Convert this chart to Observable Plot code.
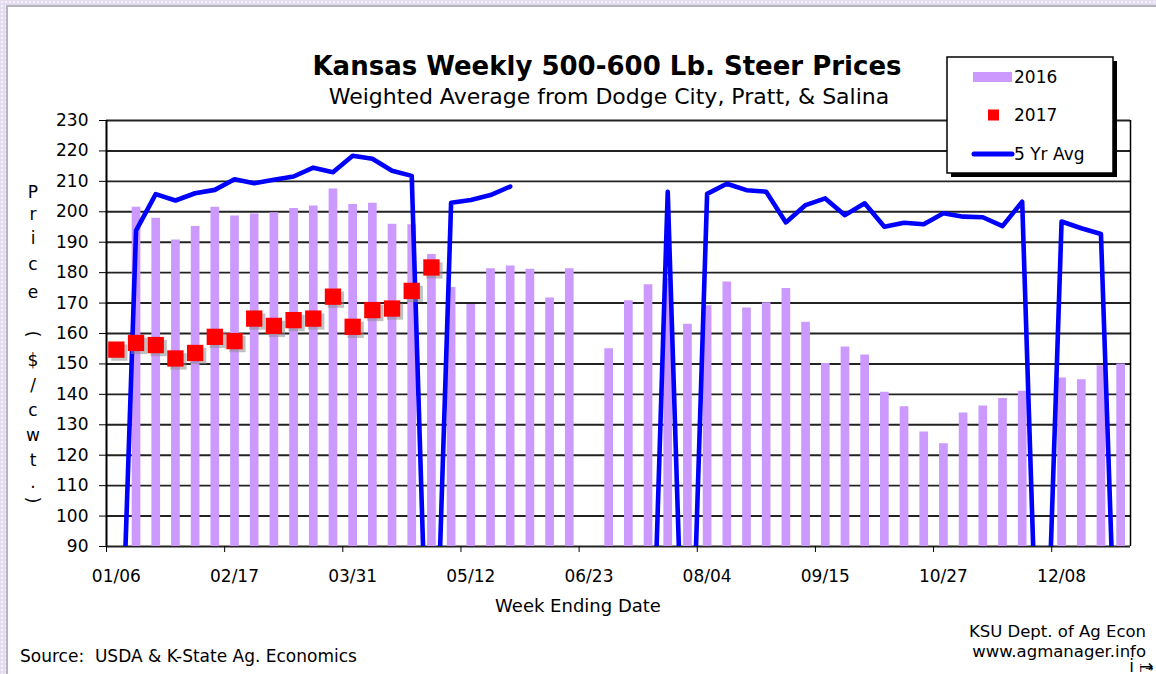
<!DOCTYPE html>
<html>
<head>
<meta charset="utf-8">
<script src="https://cdn.jsdelivr.net/npm/d3@7"></script>
<script src="https://cdn.jsdelivr.net/npm/@observablehq/plot@0.6"></script>
<style>
html, body { margin: 0; padding: 0; }
* { cursor: none; }
body {
  width: 1156px; height: 674px; overflow: hidden; position: relative;
  background-color: #e3ddef;
  background-image: radial-gradient(#f5f2fa 1px, transparent 1.2px);
  background-size: 4px 4px;
  font-family: "DejaVu Sans", Verdana, sans-serif;
}
#panel { position: absolute; left: 6px; top: 5px; width: 1148px; height: 667px; background: #fff;
  border-left: 2px solid #b5b3bd; border-top: 2px solid #b5b3bd; }
#chart { position: absolute; left: 0; top: 0; width: 1156px; height: 674px; overflow: hidden; }
</style>
</head>
<body>
<div id="panel"></div>
<div id="chart"></div>
<script>
// ---- data ----
const weeks = ["01/06","01/13","01/20","01/27","02/03","02/10","02/17","02/24","03/03","03/10","03/17","03/24","03/31",
  "04/07","04/14","04/21","04/28","05/05","05/12","05/19","05/26","06/02","06/09","06/16","06/23","06/30",
  "07/07","07/14","07/21","07/28","08/04","08/11","08/18","08/25","09/01","09/08","09/15","09/22","09/29",
  "10/06","10/13","10/20","10/27","11/03","11/10","11/17","11/24","12/01","12/08","12/15","12/22","12/29"];
const xTickLabels = ["01/06","02/17","03/31","05/12","06/23","08/04","09/15","10/27","12/08"];
const yTickValues = [90,100,110,120,130,140,150,160,170,180,190,200,210,220,230];

const price2016 = [null,201.5,197.9,190.7,195.2,201.5,198.6,199.3,199.7,201.1,201.9,207.5,202.4,202.8,195.9,195.7,
  186.0,175.1,169.5,181.3,182.2,181.1,171.7,181.3,null,155.0,170.8,176.0,178.0,163.0,169.1,176.9,168.4,170.1,
  174.8,163.7,150.1,155.6,152.9,140.7,135.9,127.6,123.8,133.9,136.2,138.6,141.0,null,145.4,144.8,149.4,150.0];
const price2017 = [154.7,156.9,156.2,151.8,153.6,158.9,157.5,164.9,162.5,164.4,164.9,172.1,162.2,167.7,168.2,174.0,181.7];
const avg5Yr = [0,193.8,205.8,203.7,206.1,207.2,210.7,209.4,210.5,211.6,214.5,213.0,218.4,217.4,213.5,211.8,
  0,203.0,203.9,205.5,208.3,null,null,null,null,null,null,0,206.6,0,205.9,209.2,207.1,206.6,196.5,202.2,204.4,
  198.9,202.8,195.1,196.4,195.9,199.5,198.4,198.2,195.3,203.3,0,196.8,194.6,192.7,0];

const seriesLabels = ["2016","2017","5 Yr Avg"];
const titleText = "Kansas Weekly 500-600 Lb. Steer Prices";
const subtitleText = "Weighted Average from Dodge City, Pratt, & Salina";
const yTitleChars = ["P","r","i","c","e","(","$","/","c","w","t",".",")"];

// ---- table ----
const rows = weeks.map((w, i) => ({
  i, w,
  p16: price2016[i] == null ? NaN : price2016[i],
  p17: price2017[i] == null ? NaN : price2017[i],
  avg: avg5Yr[i] == null ? NaN : avg5Yr[i]
}));
const bars = rows.filter(d => !isNaN(d.p16));
const pts = rows.filter(d => !isNaN(d.p17));
const labelIdx = xTickLabels.map(l => weeks.indexOf(l));
const tickPos = labelIdx.map(i => i - 0.5);

const purple = "#cc99ff", blue = "#0000ff", red = "#ff0000";

const chart = Plot.plot({
  width: 1156, height: 674,
  marginLeft: 106, marginRight: 26, marginTop: 120, marginBottom: 128,
  style: {background: "none", overflow: "visible", fontFamily: "DejaVu Sans, Verdana, sans-serif", color: "#000"},
  x: {type: "linear", domain: [-0.5, 51.5], axis: null},
  y: {domain: [90, 230], axis: null},
  marks: [
    Plot.gridY(yTickValues, {stroke: "#222", strokeOpacity: 1, strokeWidth: 1.9}),
    Plot.ruleX(bars, {x: "i", y1: 90, y2: "p16", stroke: purple, strokeWidth: 8.7}),
    Plot.ruleX([-0.5], {stroke: "#000", strokeWidth: 2}),
    Plot.ruleX([51.5], {stroke: "#000", strokeWidth: 1.5}),
    Plot.axisY({ticks: yTickValues, tickSize: 7, tickPadding: 11, fontSize: 17, tickFormat: d => String(d)}),
    Plot.axisX({ticks: tickPos, tickSize: 6, tickFormat: () => ""}),
    Plot.axisX({ticks: labelIdx, tickSize: 0, tickPadding: 23, fontSize: 17, tickFormat: i => weeks[i]}),
    Plot.line(rows, {x: "i", y: "avg", stroke: blue, strokeWidth: 4.6, strokeLinejoin: "round", clip: true}),
    Plot.dot(pts, {x: "i", y: "p17", symbol: "square", r: 9.2, fill: "#8c8c8c", fillOpacity: 0.55, dx: 3, dy: 3}),
    Plot.dot(pts, {x: "i", y: "p17", symbol: "square", r: 9.2, fill: red})
  ]
});
document.getElementById("chart").appendChild(chart);

// ---- texts, legend ----
const svg = d3.select(chart);
const g = svg.append("g").attr("font-family", "DejaVu Sans, Verdana, sans-serif").attr("fill", "#000")
  .attr("text-anchor", "start");
function txt(s, x, y, size, opt = {}) {
  const t = g.append("text").attr("x", x).attr("y", y).attr("font-size", size)
    .attr("text-anchor", opt.anchor || "start").text(s);
  if (opt.bold) t.attr("font-weight", "bold");
  if (opt.pre) t.attr("xml:space", "preserve").style("white-space", "pre");
  if (opt.central) t.attr("dominant-baseline", "central");
  return t;
}
txt(titleText, 607, 75, 26, {anchor: "middle", bold: true});
txt(subtitleText, 609, 104, 22, {anchor: "middle"});
txt("Week Ending Date", 578, 612, 18, {anchor: "middle"});
txt("Source:  USDA & K-State Ag. Economics", 20, 662, 17, {pre: true});
txt("KSU Dept. of Ag Econ", 1146, 637, 16.5, {anchor: "end"});
txt("www.agmanager.info", 1146, 657, 16.5, {anchor: "end"});

const yTitleY = [192,214,238,264,292,334,360,385,410,435,460,482,500];
yTitleChars.forEach((c, k) => {
  const t = txt(c, 33, yTitleY[k], 17, {anchor: "middle", central: true});
  if (c === "(" || c === ")") t.attr("transform", `rotate(90 33 ${yTitleY[k]})`);
});

// legend
const lg = svg.append("g").attr("font-family", "DejaVu Sans, Verdana, sans-serif").attr("text-anchor", "start");
lg.append("rect").attr("x", 951).attr("y", 61).attr("width", 166).attr("height", 116).attr("fill", "#000");
lg.append("rect").attr("x", 947).attr("y", 57).attr("width", 166).attr("height", 116)
  .attr("fill", "#fff").attr("stroke", "#000").attr("stroke-width", 1.5);
lg.append("rect").attr("x", 973).attr("y", 72).attr("width", 39).attr("height", 10).attr("fill", purple);
lg.append("rect").attr("x", 988).attr("y", 109.5).attr("width", 11).attr("height", 11).attr("fill", red);
lg.append("line").attr("x1", 974).attr("x2", 1012).attr("y1", 154).attr("y2", 154)
  .attr("stroke", blue).attr("stroke-width", 5).attr("stroke-linecap", "round");
[[seriesLabels[0], 77], [seriesLabels[1], 115], [seriesLabels[2], 154]].forEach(([s, y]) => {
  lg.append("text").attr("x", 1014).attr("y", y).attr("font-size", 17)
    .attr("text-anchor", "start").attr("dominant-baseline", "central").text(s);
});
</script>
</body>
</html>
